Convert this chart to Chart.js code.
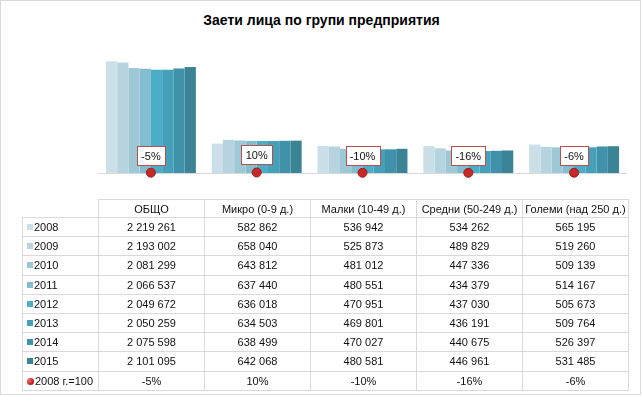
<!DOCTYPE html>
<html>
<head>
<meta charset="utf-8">
<script src="https://cdn.jsdelivr.net/npm/chart.js@4"></script>
<style>
  html, body { margin: 0; padding: 0; background: #fff; }
  #wrap { position: relative; width: 643px; height: 397px; overflow: hidden; }
  #frame { position: absolute; left: 0; top: 0; width: 639px; height: 393px; border: 1px solid #d9d9d9; }
  #title { position: absolute; left: 0; top: 12px; width: 643px; text-align: center;
           font: bold 14px "Liberation Sans", Arial, sans-serif; color: #000; }
  #chart { position: absolute; left: 0; top: 0; }
  #tbl { position: absolute; left: 22px; top: 199px; border-collapse: collapse; table-layout: fixed;
         font: 11px "Liberation Sans", Arial, sans-serif; color: #111; }
  #tbl td { border: 1px solid #d9d9d9; text-align: center; padding: 0; height: 18.2px; white-space: nowrap; }
  #tbl tr.head td { height: 17px; }
  #tbl td.key { text-align: left; padding-left: 4px; }
  #tbl td.blank { border-top: none; border-left: none; }
  .sq { display: inline-block; width: 6px; height: 6px; margin-right: 1px; vertical-align: 1px; }
  .dot { display: inline-block; width: 7px; height: 7px; border-radius: 50%; margin-right: 1px; vertical-align: 0px;
         background: radial-gradient(circle at 35% 35%, #f07070, #c42626 55%, #8e1a1a); }
</style>
</head>
<body>
<div id="wrap">
  <div id="frame"></div>
  <div id="title">Заети лица по групи предприятия</div>
  <canvas id="chart" width="643" height="397"></canvas>
  <table id="tbl"></table>
</div>
<script>
const categories = ["ОБЩО", "Микро (0-9 д.)", "Малки (10-49 д.)", "Средни (50-249 д.)", "Големи (над 250 д.)"];
const years = ["2008", "2009", "2010", "2011", "2012", "2013", "2014", "2015"];
const v2008 = [2219261, 582862, 536942, 534262, 565195];
const v2009 = [2193002, 658040, 525873, 489829, 519260];
const v2010 = [2081299, 643812, 481012, 447336, 509139];
const v2011 = [2066537, 637440, 480551, 434379, 514167];
const v2012 = [2049672, 636018, 470951, 437030, 505673];
const v2013 = [2050259, 634503, 469801, 436191, 509764];
const v2014 = [2075598, 638499, 470027, 440675, 526397];
const v2015 = [2101095, 642068, 480581, 446961, 531485];
const changeLabel = "2008 г.=100";
const change = [-0.05, 0.10, -0.10, -0.16, -0.06];
const yearColors = ["#cadfe8", "#b5d4df", "#9fc8d7", "#82bdd0", "#4badc7", "#45a1ba", "#3f92a9", "#3a8496"];

const series = [v2008, v2009, v2010, v2011, v2012, v2013, v2014, v2015];

function fmtNum(n) {
  return String(n).replace(/\B(?=(\d{3})+(?!\d))/g, " ");
}
function fmtPct(p) {
  return Math.round(p * 100) + "%";
}

const datasets = series.map(function (vals, i) {
  return {
    type: "bar",
    label: years[i],
    data: vals,
    backgroundColor: yearColors[i],
    borderWidth: 0,
    categoryPercentage: 0.85,
    barPercentage: 1.0,
    yAxisID: "y",
    order: 2
  };
});
datasets.push({
  type: "line",
  label: changeLabel,
  data: change,
  showLine: false,
  clip: false,
  pointRadius: 4.5,
  pointHoverRadius: 4.5,
  pointBackgroundColor: "#c82828",
  pointBorderColor: "#9a1c1c",
  pointBorderWidth: 1,
  yAxisID: "y2",
  order: 1
});

// baseline + percentage boxes
const extras = {
  id: "extras",
  beforeDatasetsDraw(chart) {
    const ctx = chart.ctx, a = chart.chartArea;
    const y0 = chart.scales.y.getPixelForValue(0);
    ctx.save();
    ctx.strokeStyle = "#d9d9d9";
    ctx.lineWidth = 1;
    ctx.beginPath();
    ctx.moveTo(a.left, Math.round(y0) + 0.5);
    ctx.lineTo(a.right, Math.round(y0) + 0.5);
    ctx.stroke();
    ctx.restore();
  },
  afterDatasetsDraw(chart) {
    const ctx = chart.ctx;
    const meta = chart.getDatasetMeta(chart.data.datasets.length - 1);
    ctx.save();
    ctx.font = "11px 'Liberation Sans', Arial, sans-serif";
    ctx.textAlign = "center";
    ctx.textBaseline = "middle";
    meta.data.forEach(function (pt, i) {
      const txt = fmtPct(change[i]);
      const w = Math.ceil(ctx.measureText(txt).width) + 8;
      const h = 19;
      const x = Math.round(pt.x - w / 2) + 0.5;
      const y = Math.round(pt.y - 27) + 0.5;
      ctx.fillStyle = "#fff";
      ctx.fillRect(x, y, w, h);
      ctx.strokeStyle = "#b4504e";
      ctx.lineWidth = 1;
      ctx.strokeRect(x, y, w, h);
      ctx.fillStyle = "#111";
      ctx.fillText(txt, pt.x, y + h / 2 + 0.5);
    });
    ctx.restore();
  }
};

new Chart(document.getElementById("chart"), {
  data: { labels: categories, datasets: datasets },
  options: {
    responsive: false,
    animation: false,
    layout: { padding: { left: 98, right: 16, top: 47, bottom: 224 } },
    plugins: { legend: { display: false }, tooltip: { enabled: false }, title: { display: false } },
    scales: {
      x: { display: false },
      y: { display: false, min: 0, max: 2500000 },
      y2: { display: false, min: -0.3, max: 100 }
    }
  },
  plugins: [extras]
});

// data table under the chart
const tbl = document.getElementById("tbl");
const colW = [76, 106, 106, 106, 106, 106];
let html = "<colgroup>" + colW.map(function (w) { return '<col style="width:' + w + 'px">'; }).join("") + "</colgroup>";
html += '<tr class="head"><td class="blank"></td>' + categories.map(function (c) { return "<td>" + c + "</td>"; }).join("") + "</tr>";
series.forEach(function (vals, i) {
  html += '<tr><td class="key"><span class="sq" style="background:' + yearColors[i] + '"></span>' + years[i] + "</td>" +
    vals.map(function (v) { return "<td>" + fmtNum(v) + "</td>"; }).join("") + "</tr>";
});
html += '<tr><td class="key"><span class="dot"></span>' + changeLabel + "</td>" +
  change.map(function (p) { return "<td>" + fmtPct(p) + "</td>"; }).join("") + "</tr>";
tbl.innerHTML = html;
</script>
</body>
</html>
